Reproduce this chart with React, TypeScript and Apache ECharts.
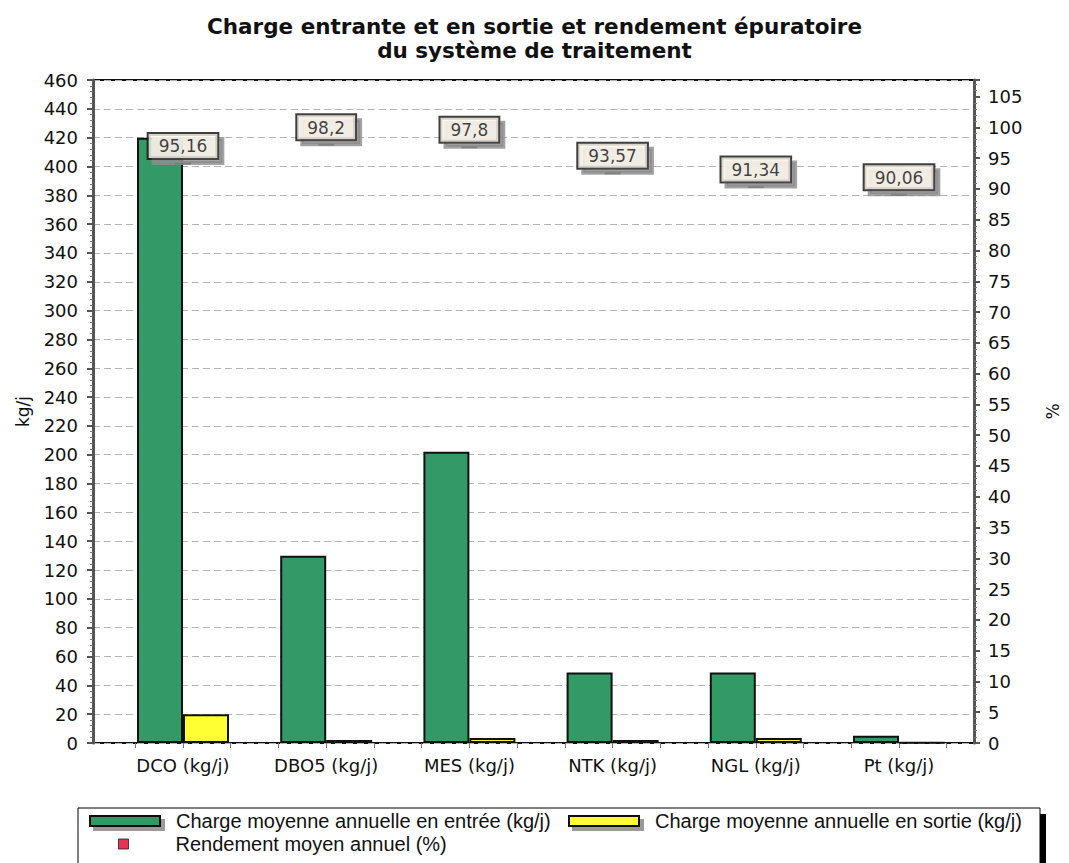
import React, { useEffect, useRef } from 'react';
import * as echarts from 'echarts';

const chartTitle = 'Charge entrante et en sortie et rendement épuratoire\ndu système de traitement';
const categories = ['DCO (kg/j)', 'DBO5 (kg/j)', 'MES (kg/j)', 'NTK (kg/j)', 'NGL (kg/j)', 'Pt (kg/j)'];
const chargeEntree = [420, 130, 202, 49, 49, 5];
const chargeSortie = [20, 2, 3.5, 2, 3.5, 0.5];
const rendement = [95.16, 98.2, 97.8, 93.57, 91.34, 90.06];
const seriesNames = [
  'Charge moyenne annuelle en entrée (kg/j)',
  'Charge moyenne annuelle en sortie (kg/j)',
  'Rendement moyen annuel (%)',
];
const kgMin = 0;
const kgMax = 460;
const kgInterval = 20;
const pctMin = 0;
const pctMax = 107.7;
const pctInterval = 5;
const kgName = 'kg/j';
const pctName = '%';

const AXIS_FONT = 'DejaVu Sans';
const LEGEND_FONT = 'Liberation Sans';

export default function App() {
  const ref = useRef<HTMLDivElement>(null);

  useEffect(() => {
    const chart = echarts.init(ref.current!, null, { renderer: 'svg' });
    const tickCats = categories.flatMap((c) => [c + ':g', c + ':m', c + ':s']);
    const barIcon = 'path://M1,1h70v10h-70z M0,0 M82,12';
    const squareIcon = 'path://M30,1h10v10h-10z M0,0 M82,12';
    const axisLabelStyle = { fontFamily: AXIS_FONT, fontSize: 18, color: '#111' };
    const legendShadow = { shadowColor: '#9a9a9a', shadowOffsetX: 4, shadowOffsetY: 4, shadowBlur: 1 };
    const legendBase = {
      itemWidth: 82,
      itemHeight: 12,
      padding: 0,
      selectedMode: false,
      textStyle: { fontFamily: LEGEND_FONT, fontSize: 20, color: '#111' },
    };

    const option: any = {
      animation: false,
      backgroundColor: '#fff',
      title: {
        text: chartTitle,
        left: 'center',
        top: 14,
        padding: [0, 0, 0, 11],
        textStyle: { fontFamily: AXIS_FONT, fontWeight: 'bold', fontSize: 21.5, lineHeight: 24, color: '#111' },
      },
      graphic: [
        { type: 'rect', z: 0, shape: { x: 84, y: 814, width: 962, height: 80 }, style: { fill: '#000' } },
        { type: 'rect', z: 0, shape: { x: 78, y: 808, width: 962, height: 80 }, style: { fill: '#fff', stroke: '#000', lineWidth: 1 } },
      ],
      legend: [
        { ...legendBase, left: 88, top: 811, itemStyle: legendShadow, data: [{ name: seriesNames[0], icon: barIcon, itemStyle: legendShadow }] },
        { ...legendBase, left: 567, top: 811, itemStyle: legendShadow, data: [{ name: seriesNames[1], icon: barIcon, itemStyle: legendShadow }] },
        {
          ...legendBase,
          left: 88,
          top: 834,
          data: [{ name: seriesNames[2], icon: squareIcon, itemStyle: { color: '#e4002b', borderColor: '#222', borderWidth: 1 } }],
        },
      ],
      grid: [
        { left: 93, top: 80, width: 895, height: 663, show: true, borderColor: '#111', borderWidth: 2, backgroundColor: 'transparent' },
        { left: 111.4, top: 80, width: 859.2, height: 663 },
      ],
      xAxis: [
        {
          type: 'category',
          gridIndex: 1,
          data: categories,
          position: 'bottom',
          axisLine: { show: false },
          axisTick: { show: false },
          axisLabel: { ...axisLabelStyle, margin: 13, interval: 0 },
        },
        {
          type: 'category',
          gridIndex: 1,
          data: tickCats,
          position: 'bottom',
          axisLine: { show: false },
          axisLabel: { show: false },
          axisTick: { show: true, alignWithLabel: true, interval: 0, length: 5, lineStyle: { color: '#777', width: 1 } },
          splitLine: { show: false },
        },
        { type: 'value', gridIndex: 0, show: false, min: 0, max: 1 },
      ],
      yAxis: [
        {
          type: 'value',
          gridIndex: 0,
          position: 'left',
          min: kgMin,
          max: kgMax,
          interval: kgInterval,
          name: kgName,
          nameLocation: 'middle',
          nameGap: 62,
          nameTextStyle: { fontFamily: AXIS_FONT, fontSize: 17, color: '#111' },
          axisLine: { show: true, lineStyle: { color: '#555', width: 3 } },
          axisTick: { show: true, length: 6, lineStyle: { color: '#555', width: 2 } },
          minorTick: { show: true, splitNumber: 5, length: 3, lineStyle: { color: '#777', width: 1 } },
          axisLabel: { ...axisLabelStyle, margin: 15 },
          splitLine: { show: true, lineStyle: { color: '#b4b4b4', width: 1, type: [7, 4] } },
        },
        {
          type: 'value',
          gridIndex: 0,
          position: 'right',
          min: pctMin,
          max: pctMax,
          interval: pctInterval,
          name: pctName,
          nameLocation: 'middle',
          nameGap: 70,
          nameTextStyle: { fontFamily: AXIS_FONT, fontSize: 17, color: '#111' },
          axisLine: { show: true, lineStyle: { color: '#555', width: 3 } },
          axisTick: { show: true, length: 6, lineStyle: { color: '#555', width: 2 } },
          minorTick: { show: true, splitNumber: 5, length: 3, lineStyle: { color: '#777', width: 1 } },
          axisLabel: { ...axisLabelStyle, margin: 14, showMaxLabel: false },
          splitLine: { show: false },
        },
        { type: 'value', gridIndex: 1, show: false, min: kgMin, max: kgMax },
        { type: 'value', gridIndex: 1, show: false, min: pctMin, max: pctMax },
      ],
      series: [
        {
          name: seriesNames[0],
          type: 'bar',
          xAxisIndex: 0,
          yAxisIndex: 2,
          data: chargeEntree,
          barWidth: 46,
          barGap: '0%',
          itemStyle: { color: '#339966', borderColor: '#111', borderWidth: 2 },
        },
        {
          name: seriesNames[1],
          type: 'bar',
          xAxisIndex: 0,
          yAxisIndex: 2,
          data: chargeSortie,
          barWidth: 46,
          barGap: '0%',
          itemStyle: { color: '#ffff33', borderColor: '#111', borderWidth: 2 },
        },
        {
          name: seriesNames[2],
          type: 'scatter',
          xAxisIndex: 0,
          yAxisIndex: 3,
          data: rendement,
          z: 5,
          symbol: 'rect',
          symbolSize: [16, 2.5],
          symbolOffset: [0, 6],
          itemStyle: { color: '#222' },
          label: {
            show: true,
            position: 'top',
            distance: 4,
            formatter: (p: any) => String(p.value).replace('.', ','),
            fontFamily: AXIS_FONT,
            fontSize: 17,
            color: '#111',
            backgroundColor: '#fffaf0',
            borderColor: '#111',
            borderWidth: 2,
            padding: [4, 10, 3, 10],
            shadowColor: '#8c8c8c',
            shadowOffsetX: 5,
            shadowOffsetY: 5,
            shadowBlur: 1,
          },
        },
      ],
    };
    chart.setOption(option);
    return () => chart.dispose();
  }, []);

  return (
    <div
      ref={ref}
      style={{ position: 'fixed', left: 0, top: 0, width: 1069, height: 863, background: '#fff' }}
    />
  );
}
